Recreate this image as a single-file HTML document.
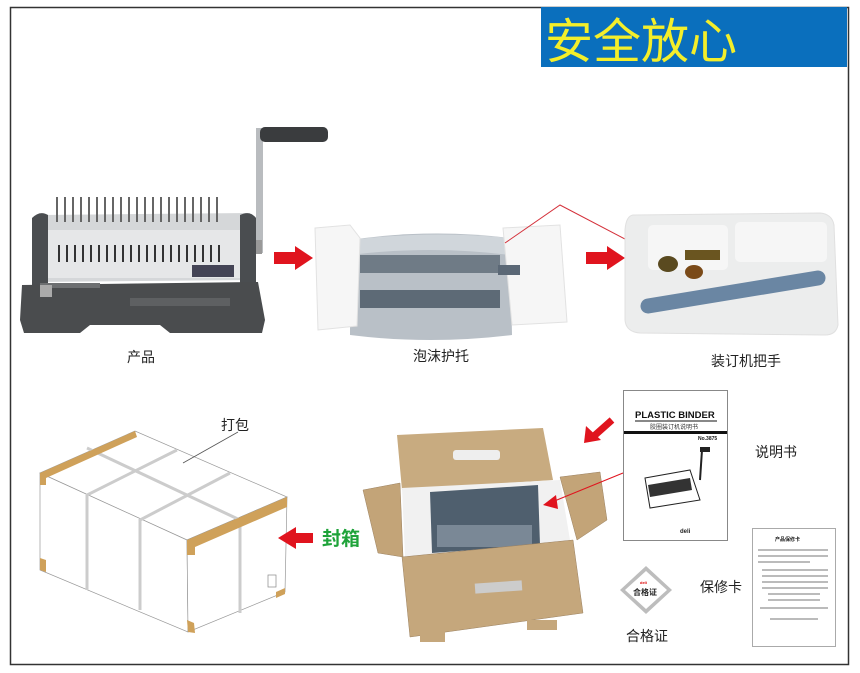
<!DOCTYPE html>
<html><head><meta charset="utf-8"><style>
html,body{margin:0;padding:0;background:#fff;}
svg{display:block}
text{font-family:"Liberation Sans","Noto Sans CJK SC",sans-serif;}
</style></head><body>
<svg width="860" height="673" viewBox="0 0 860 673" xmlns="http://www.w3.org/2000/svg">
<rect x="0" y="0" width="860" height="673" fill="#fff"/>
<rect x="10.5" y="7.5" width="838" height="657" fill="none" stroke="#333" stroke-width="1.5"/>
<!-- title -->
<rect x="541" y="7" width="306" height="60" fill="#0a6fbd"/>
<text x="545" y="58" font-size="48" fill="#f4ee2a">安全放心</text>

<!-- binding machine -->
<rect x="256" y="128" width="7" height="125" fill="#b9bcbf"/>
<rect x="260" y="127" width="68" height="15" rx="5" fill="#3a3c3e"/>
<rect x="250" y="240" width="12" height="14" fill="#999"/>
<path d="M42 215 L250 213 L256 280 L38 282 Z" fill="#d5d7d9"/>
<rect x="46" y="230" width="200" height="48" fill="#e6e7e8"/>
<g stroke="#666" stroke-width="2">
<line x1="57" y1="197" x2="57" y2="222"/><line x1="65" y1="197" x2="65" y2="222"/><line x1="73" y1="197" x2="73" y2="222"/><line x1="81" y1="197" x2="81" y2="222"/><line x1="89" y1="197" x2="89" y2="222"/><line x1="97" y1="197" x2="97" y2="222"/><line x1="105" y1="197" x2="105" y2="222"/><line x1="113" y1="197" x2="113" y2="222"/><line x1="121" y1="197" x2="121" y2="222"/><line x1="129" y1="197" x2="129" y2="222"/><line x1="137" y1="197" x2="137" y2="222"/><line x1="145" y1="197" x2="145" y2="222"/><line x1="153" y1="197" x2="153" y2="222"/><line x1="161" y1="197" x2="161" y2="222"/><line x1="169" y1="197" x2="169" y2="222"/><line x1="177" y1="197" x2="177" y2="222"/><line x1="185" y1="197" x2="185" y2="222"/><line x1="193" y1="197" x2="193" y2="222"/><line x1="201" y1="197" x2="201" y2="222"/><line x1="209" y1="197" x2="209" y2="222"/><line x1="217" y1="197" x2="217" y2="222"/>
</g>
<g stroke="#333" stroke-width="2">
<line x1="59" y1="245" x2="59" y2="262"/><line x1="67" y1="245" x2="67" y2="262"/><line x1="75" y1="245" x2="75" y2="262"/><line x1="83" y1="245" x2="83" y2="262"/><line x1="91" y1="245" x2="91" y2="262"/><line x1="99" y1="245" x2="99" y2="262"/><line x1="107" y1="245" x2="107" y2="262"/><line x1="115" y1="245" x2="115" y2="262"/><line x1="123" y1="245" x2="123" y2="262"/><line x1="131" y1="245" x2="131" y2="262"/><line x1="139" y1="245" x2="139" y2="262"/><line x1="147" y1="245" x2="147" y2="262"/><line x1="155" y1="245" x2="155" y2="262"/><line x1="163" y1="245" x2="163" y2="262"/><line x1="171" y1="245" x2="171" y2="262"/><line x1="179" y1="245" x2="179" y2="262"/><line x1="187" y1="245" x2="187" y2="262"/><line x1="195" y1="245" x2="195" y2="262"/><line x1="203" y1="245" x2="203" y2="262"/><line x1="211" y1="245" x2="211" y2="262"/><line x1="219" y1="245" x2="219" y2="262"/>
</g>
<rect x="192" y="265" width="42" height="12" fill="#445"/>
<path d="M32 218 Q40 210 48 215 L48 285 L32 290 Z" fill="#4a4d50"/>
<path d="M240 215 Q250 210 256 218 L256 285 L240 285 Z" fill="#4a4d50"/>
<path d="M22 285 L258 282 L265 320 L262 333 L170 333 L160 325 L90 325 L80 333 L24 333 L20 320 Z" fill="#4a4c4e"/>
<rect x="40" y="283" width="60" height="5" fill="#6d6f71"/>
<rect x="130" y="298" width="100" height="8" fill="#5e6062"/>
<rect x="40" y="285" width="12" height="12" fill="#aaa"/>

<!-- arrows -->
<path d="M274 252 L295 252 L295 246 L313 258 L295 270 L295 264 L274 264 Z" fill="#e0141e"/>
<path d="M586 252 L607 252 L607 246 L625 258 L607 270 L607 264 L586 264 Z" fill="#e0141e"/>

<!-- foam packaging -->
<path d="M350 240 Q430 228 510 238 L512 335 Q430 345 350 335 Z" fill="#b9c0c7"/>
<rect x="360" y="255" width="140" height="18" fill="#6f7b86"/>
<rect x="360" y="290" width="140" height="18" fill="#5d6a76"/>
<path d="M350 240 Q430 230 510 238 L510 255 Q430 245 350 255 Z" fill="#d6dbe0" opacity="0.8"/>
<path d="M315 228 L350 225 L360 238 L357 326 L318 330 Z" fill="#f6f6f6" stroke="#e2e2e2"/>
<path d="M503 228 L560 225 L567 322 L512 325 Z" fill="#f6f6f6" stroke="#e2e2e2"/>
<rect x="498" y="265" width="22" height="10" fill="#5b6876"/>
<polyline points="505,243 560,205 690,273" fill="none" stroke="#d4303a" stroke-width="1"/>

<!-- tray -->
<path d="M633 215 L820 213 Q832 214 834 225 L838 325 Q836 335 825 335 L640 333 Q626 332 625 320 L625 230 Q626 216 633 215 Z" fill="#eceded" stroke="#e0e0e0"/>
<rect x="648" y="225" width="80" height="45" rx="5" fill="#f6f6f6"/>
<rect x="735" y="222" width="92" height="40" rx="5" fill="#f6f6f6"/>
<rect x="685" y="250" width="35" height="10" fill="#6a5520"/>
<ellipse cx="668" cy="264" rx="10" ry="8" fill="#5a4a20"/>
<ellipse cx="694" cy="272" rx="9" ry="7" fill="#7a4a18"/>
<line x1="648" y1="306" x2="818" y2="278" stroke="#6a86a3" stroke-width="15" stroke-linecap="round"/>

<!-- labels row 1 -->
<text x="127" y="362" font-size="14" fill="#222">产品</text>
<text x="413" y="361" font-size="14" fill="#222">泡沫护托</text>
<text x="711" y="366" font-size="14" fill="#222">装订机把手</text>

<!-- packed box -->
<polygon points="40,473 135,431 287,497 187,540" fill="#fff" stroke="#999" stroke-width="0.7"/>
<polygon points="40,473 187,540 188,632 40,570" fill="#fff" stroke="#999" stroke-width="0.7"/>
<polygon points="187,540 287,497 285,592 188,632" fill="#fff" stroke="#999" stroke-width="0.7"/>
<g stroke="#ccc" stroke-width="3" fill="none">
<polyline points="87,448 240,520 240,613"/>
<polyline points="87,590 87,495 177,450"/>
<polyline points="140,610 140,520 230,473"/>
</g>
<g fill="#cfa15a">
<polygon points="40,473 135,431 137,437 46,478 46,485 40,485"/>
<polygon points="187,540 287,497 287,507 195,547 195,555 187,555"/>
<polygon points="40,558 46,560 46,572 40,570"/>
<polygon points="187,620 194,623 195,633 188,632"/>
<polygon points="276,592 285,588 285,594 276,598"/>
</g>
<rect x="268" y="575" width="8" height="12" fill="none" stroke="#888" stroke-width="0.7"/>
<text x="221" y="430" font-size="14" fill="#222">打包</text>
<line x1="238" y1="432" x2="183" y2="463" stroke="#555" stroke-width="0.8"/>

<path d="M313 533 L296 533 L296 527 L278 538 L296 549 L296 543 L313 543 Z" fill="#e0141e"/>
<text x="322" y="545" font-size="19" font-weight="bold" fill="#1fa33a">封箱</text>

<!-- open box -->
<polygon points="363,490 400,483 403,557 378,553" fill="#c3a478" stroke="#9a8060" stroke-width="0.5"/>
<polygon points="560,477 600,472 607,520 577,540" fill="#c3a478" stroke="#9a8060" stroke-width="0.5"/>
<polygon points="397,435 543,428 553,480 402,490" fill="#c8ab80"/>
<rect x="453" y="450" width="47" height="10" rx="3" fill="#eee"/>
<polygon points="402,488 560,480 570,540 405,557" fill="#f1f1f1"/>
<polygon points="430,492 538,485 540,545 432,553" fill="#4f5f6e"/>
<rect x="437" y="525" width="95" height="22" fill="#7a8896"/>
<polygon points="402,557 573,540 583,613 410,637" fill="#c5a77c" stroke="#9a8060" stroke-width="0.5"/>
<rect x="475" y="582" width="47" height="10" fill="#ccc" transform="rotate(-4 498 587)"/>
<rect x="420" y="632" width="25" height="10" fill="#c5a77c"/>
<rect x="527" y="620" width="30" height="10" fill="#c5a77c"/>
<line x1="552" y1="502" x2="623" y2="473" stroke="#e0141e" stroke-width="1"/>
<polygon points="543,505 556,495 558,509" fill="#e0141e"/>
<line x1="612" y1="420" x2="594" y2="436" stroke="#e0141e" stroke-width="7"/>
<polygon points="584,443 586,426 601,440" fill="#e0141e"/>

<!-- manual -->
<rect x="623.5" y="390.5" width="104" height="150" fill="#fff" stroke="#888"/>
<text x="635" y="418" font-size="9.5" font-weight="bold" fill="#111">PLASTIC BINDER</text>
<line x1="635" y1="421" x2="717" y2="421" stroke="#111"/>
<text x="650" y="429" font-size="6" fill="#333">胶圈装订机说明书</text>
<rect x="624" y="431" width="103" height="3" fill="#111"/>
<text x="698" y="440" font-size="5" font-weight="bold" fill="#111">No.3875</text>
<path d="M645 478 L690 470 L700 500 L650 508 Z" fill="none" stroke="#222"/>
<path d="M648 485 L690 478 L692 490 L650 497 Z" fill="#333"/>
<line x1="700" y1="480" x2="702" y2="450" stroke="#222" stroke-width="2"/>
<rect x="700" y="447" width="10" height="5" fill="#222"/>
<text x="680" y="533" font-size="6" font-weight="bold" fill="#222">deli</text>

<text x="755" y="457" font-size="14" fill="#222">说明书</text>

<!-- warranty -->
<rect x="752.5" y="528.5" width="83" height="118" fill="#fff" stroke="#aaa"/>
<text x="775" y="541" font-size="5" font-weight="bold" fill="#222">产品保修卡</text>
<g stroke="#777" stroke-width="1">
<line x1="758" y1="550" x2="828" y2="550"/><line x1="758" y1="556" x2="828" y2="556"/><line x1="758" y1="562" x2="810" y2="562"/>
<line x1="762" y1="570" x2="828" y2="570"/><line x1="762" y1="576" x2="828" y2="576"/><line x1="762" y1="582" x2="828" y2="582"/>
<line x1="762" y1="588" x2="828" y2="588"/><line x1="768" y1="594" x2="820" y2="594"/><line x1="768" y1="600" x2="820" y2="600"/>
<line x1="760" y1="608" x2="828" y2="608"/><line x1="770" y1="619" x2="818" y2="619"/>
</g>
<text x="700" y="592" font-size="14" fill="#222">保修卡</text>

<!-- certificate -->
<polygon points="646,566 672,590 646,614 620,590" fill="#bdbdbd"/>
<polygon points="646,571 667,590 646,609 625,590" fill="#fff"/>
<text x="640" y="584" font-size="4" fill="#d00" font-weight="bold">deli</text>
<text x="633" y="595" font-size="8" font-weight="bold" fill="#222">合格证</text>
<text x="626" y="641" font-size="14" fill="#222">合格证</text>
</svg>
</body></html>
